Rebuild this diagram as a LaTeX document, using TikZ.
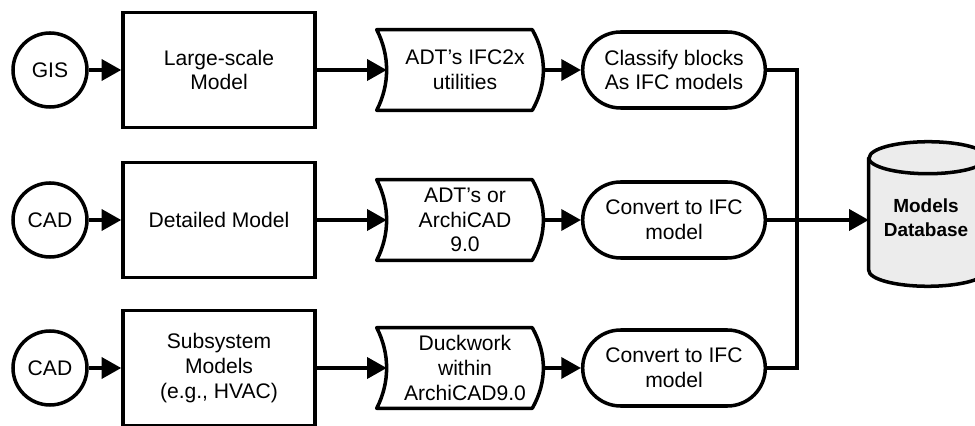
\documentclass[tikz,border=0pt]{standalone}
\usepackage{fontspec}
\setmainfont{Liberation Sans}
\usepackage{tikz}
\usetikzlibrary{shapes.misc, arrows.meta, positioning, calc}
\usepackage{xcolor}
\definecolor{dbgray}{RGB}{236,236,236}
\tikzstyle{source} = [circle, minimum size=1.85cm, inner sep=0pt, draw=black, line width=2.5pt, font=\fontsize{15}{17.5}\selectfont]
\tikzstyle{model} = [rectangle, minimum width=4.8cm, minimum height=2.875cm, text centered, align=center, draw=black, line width=2.5pt, font=\fontsize{15}{17.5}\selectfont]
\tikzstyle{tool} = [rectangle, minimum width=3.9cm, minimum height=2cm, text centered, align=center, inner sep=0pt, font=\fontsize{15}{17.5}\selectfont]
\tikzstyle{convert} = [rounded rectangle, minimum width=4.8cm, minimum height=1.9cm, text centered, align=center, draw=black, line width=2.5pt, font=\fontsize{15}{17.5}\selectfont]
\tikzstyle{store} = [rectangle, minimum width=2.95cm, minimum height=2.8cm, text centered, align=center, font=\fontsize{13.5}{17}\selectfont\bfseries]
\tikzstyle{outline} = [draw=black, line width=2.5pt, line join=round]
\tikzstyle{line} = [line width=2.5pt]
\tikzstyle{arrow} = [line width=2.5pt, -{Triangle[length=14pt, width=15pt]}]

\begin{document}
\begin{tikzpicture}
\useasboundingbox (0,0) rectangle (24.375,10.625);

% Sources (left side)
\node[source] (gis) at (1.25,8.875) {GIS};
\node[source] (cad1) at (1.25,5.125) {CAD};
\node[source] (cad2) at (1.25,1.425) {CAD};

% Models
\node[model] (large) at (5.475,8.875) {Large-scale\\Model};
\node[model] (detail) at (5.475,5.125) {Detailed Model};
\node[model] (subsys) at (5.475,1.425) {Subsystem\\Models\\(e.g., HVAC)};

% Tools (outline drawn below)
\node[tool] (adt) at (11.625,8.875) {ADT's IFC2x\\utilities};
\node[tool] (archi) at (11.625,5.125) {ADT's or\\ArchiCAD\\9.0};
\node[tool] (duck) at (11.625,1.425) {Duckwork\\within\\ArchiCAD9.0};

% Tool outlines
\draw[outline] ($(adt.north west)+(-0.25,0)$) .. controls +(0.33,-0.65) and +(0.33,0.65) .. ($(adt.south west)+(-0.25,0)$) -- ($(adt.south east)+(-0.275,0)$) .. controls +(0.37,0.65) and +(0.37,-0.65) .. ($(adt.north east)+(-0.275,0)$) -- cycle;
\draw[outline] ($(archi.north west)+(-0.25,0)$) .. controls +(0.33,-0.65) and +(0.33,0.65) .. ($(archi.south west)+(-0.25,0)$) -- ($(archi.south east)+(-0.275,0)$) .. controls +(0.37,0.65) and +(0.37,-0.65) .. ($(archi.north east)+(-0.275,0)$) -- cycle;
\draw[outline] ($(duck.north west)+(-0.25,0)$) .. controls +(0.33,-0.65) and +(0.33,0.65) .. ($(duck.south west)+(-0.25,0)$) -- ($(duck.south east)+(-0.275,0)$) .. controls +(0.37,0.65) and +(0.37,-0.65) .. ($(duck.north east)+(-0.275,0)$) -- cycle;

% Conversion steps
\node[convert] (classify) at (16.85,8.875) {Classify blocks\\As IFC models};
\node[convert] (conv1) at (16.85,5.125) {Convert to IFC\\model};
\node[convert] (conv2) at (16.85,1.425) {Convert to IFC\\model};

% Models database
\node[store] (db) at (23.2,5.275) {};
\filldraw[outline, fill=dbgray] ($(db.north west)$) -- ($(db.south west)$) arc[start angle=180, end angle=360, x radius=1.475cm, y radius=0.4cm] -- ($(db.north east)$) arc[start angle=0, end angle=180, x radius=1.475cm, y radius=0.4cm] -- cycle;
\draw[outline] (db.north west) arc[start angle=180, end angle=360, x radius=1.475cm, y radius=0.4cm];
\node[store, anchor=center] (dbtext) at ($(db.center)+(-0.05,-0.1)$) {Models\\Database};

% Arrows
\draw[arrow] (gis) -- (large);
\draw[arrow] (cad1) -- (detail);
\draw[arrow] (cad2) -- (subsys);
\draw[arrow] (large) -- (adt);
\draw[arrow] (detail) -- (archi);
\draw[arrow] (subsys) -- (duck);
\draw[arrow] (adt) -- (classify);
\draw[arrow] (archi) -- (conv1);
\draw[arrow] (duck) -- (conv2);

% Collecting line to database
\coordinate (busend) at (19.925,1.425);
\draw[line] (classify.east) -| (busend) -- (conv2.east);
\draw[arrow] (conv1.east) -- (conv1.east -| db.west);

\end{tikzpicture}
\end{document}
